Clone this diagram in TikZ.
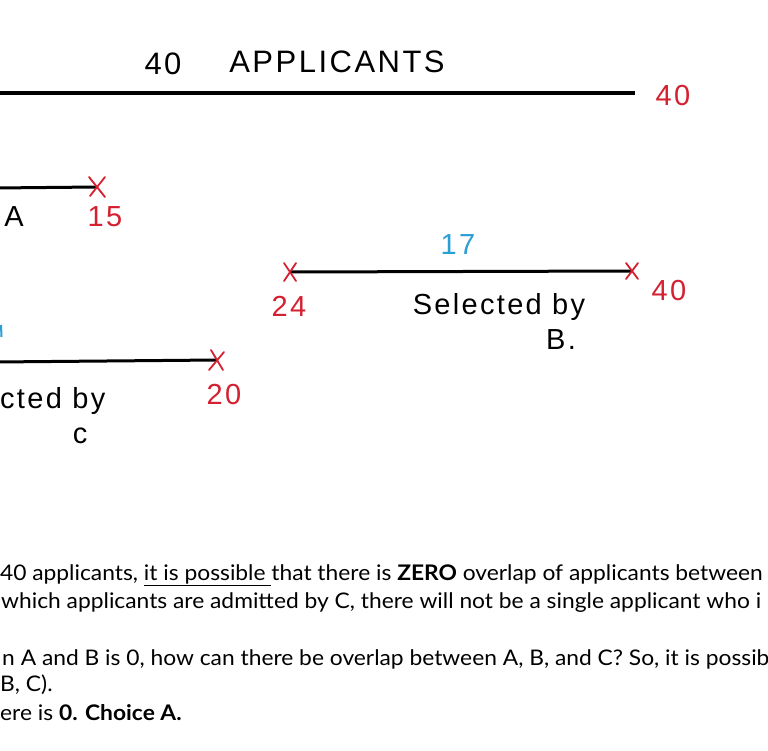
\documentclass[tikz,border=0pt]{standalone}
\usepackage{fontspec}
\setmainfont{Lato}[FakeStretch=1.06]
\newfontfamily\hand{Liberation Sans}[LetterSpace=8]
\definecolor{inkred}{HTML}{D42030}
\definecolor{inkblue}{HTML}{2A9FD6}
\begin{document}
\begin{tikzpicture}[x=1pt,y=-1pt,
  seg/.style={line width=3pt,black},
  topseg/.style={line width=3.5pt,black},
  cross/.style={inkred,line width=1.8pt,line cap=round},
  hw/.style={font=\hand\fontsize{29}{29}\selectfont,inner sep=0pt},
  hwred/.style={hw,text=inkred},
  hwblue/.style={hw,text=inkblue},
  body/.style={font=\fontsize{21.5}{21.5}\selectfont,inner sep=0pt}]
\useasboundingbox (0,0) rectangle (768,750);
\clip (0,0) rectangle (768,750);
\fill[white] (0,0) rectangle (768,750);

% top line
\coordinate (t0) at (-5,93);
\coordinate (t1) at (635,93);
\draw[topseg] (t0) -- (t1);
\node[hw,font=\hand\fontsize{31}{31}\selectfont] (title40) at (163,64) {40};
\node[hw,font=\hand\fontsize{31}{31}\selectfont] (title) at (337,62) {APPLICANTS};
\node[hwred] (t40) at (673,96) {40};

% A line
\coordinate (a0) at (-5,188);
\coordinate (ax) at (97,187);
\draw[seg] (a0) -- (ax);
\draw[cross] ([shift={(-8,-10)}]ax) -- ([shift={(8,10)}]ax) ([shift={(8,-10)}]ax) -- ([shift={(-7,9)}]ax);
\node[hw] (alab) at (14,217) {A};
\node[hwred] (a15) at (105,217) {15};

% B line
\coordinate (b0) at (290,272);
\coordinate (b1) at (632,271);
\draw[seg] (b0) -- (b1);
\draw[cross] ([shift={(-6,-9)}]b0) -- ([shift={(6,9)}]b0) ([shift={(6,-9)}]b0) -- ([shift={(-6,9)}]b0);
\draw[cross] ([shift={(-6,-8)}]b1) -- ([shift={(6,8)}]b1) ([shift={(6,-8)}]b1) -- ([shift={(-6,8)}]b1);
\node[hwblue] (b17) at (458,245) {17};
\node[hwred] (b24) at (289,306) {24};
\node[hwred] (b40) at (669,291) {40};
\node[hw] (bsel) at (499,307) {Selected by};
\node[hw] (bB) at (561,340) {B.};

% C line
\coordinate (c0) at (-5,362);
\coordinate (cx) at (217,360);
\draw[seg] (c0) -- (cx);
\draw[cross] ([shift={(-6,-10)}]cx) -- ([shift={(6,10)}]cx) ([shift={(7,-8)}]cx) -- ([shift={(-8,10)}]cx);
\node[hwred] (c20) at (224,395) {20};
\node[hw,anchor=west] (csel) at (0,401) {cted by};
\node[hw] (cC) at (80,436) {c};
\coordinate (bl0) at (1,325);
\coordinate (bl1) at (1.5,337);
\draw[inkblue,line width=2pt] (bl0) -- (bl1);

% body text
\node[body,anchor=base east] (l1) at (763,580) {40 applicants, \underline{it is possible }that there is \textbf{ZERO} overlap of applicants between};
\node[body,anchor=base west] (l2) at (1,608) {which applicants are admitted by C, there will not be a single applicant who i};
\node[body,anchor=base west] (l3) at (2,665) {n A and B is 0, how can there be overlap between A, B, and C? So, it is possib};
\node[body,anchor=base west] (l4) at (0,691) {B, C).};
\node[body,anchor=base west] (l5) at (0,720) {ere is \textbf{0. Choice A.}};
\end{tikzpicture}
\end{document}
